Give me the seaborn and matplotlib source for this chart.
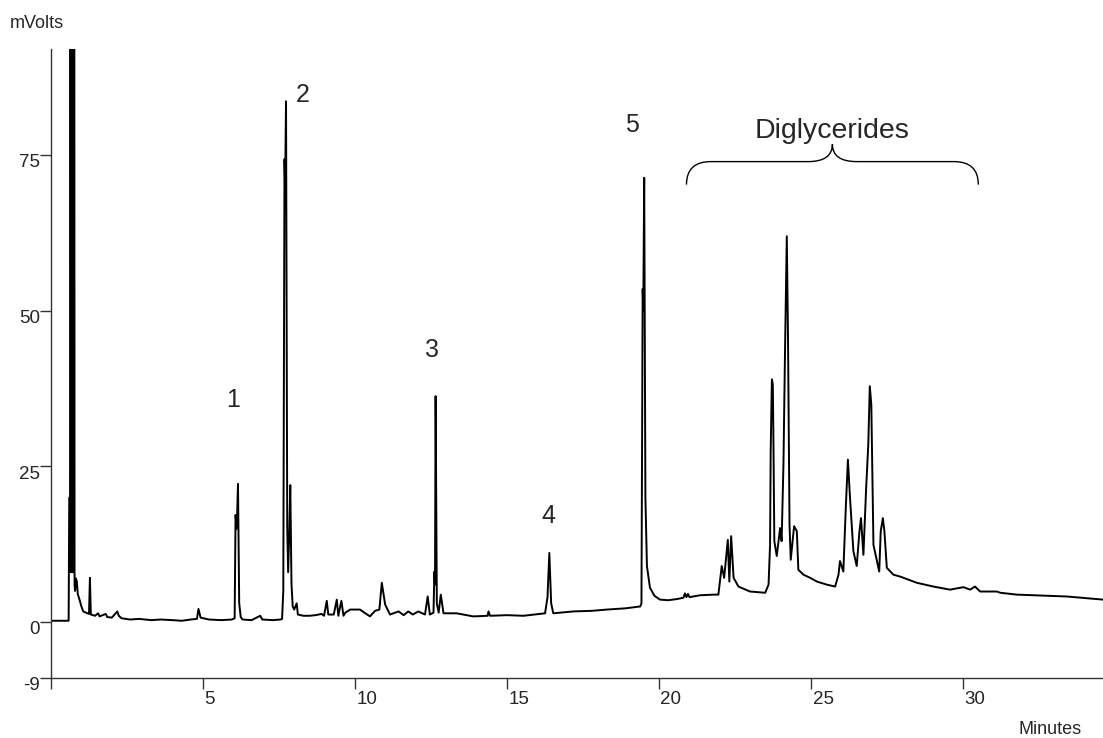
import matplotlib
matplotlib.use("Agg")
import matplotlib.pyplot as plt
import matplotlib.transforms as mtransforms
from matplotlib.path import Path
from matplotlib.patches import PathPatch
import pandas as pd
import seaborn as sns

# trace (minutes, mV)
time_min = [
    0.00, 0.58, 0.60, 0.63, 0.640, 0.655, 0.670, 0.685, 0.700, 0.715, 0.730, 0.745, 0.760, 0.775,
    0.79, 0.82, 0.85, 0.88, 0.95, 1.00, 1.06, 1.15, 1.25, 1.28, 1.31, 1.45, 1.55, 1.60, 1.80, 1.85,
    2.00, 2.18, 2.23, 2.32, 2.60, 2.90, 3.30, 3.60, 4.00, 4.30, 4.60, 4.80, 4.85, 4.92, 5.20, 5.60,
    5.95, 6.04, 6.07, 6.11, 6.15, 6.19, 6.24, 6.30, 6.60, 6.88, 6.95, 7.30, 7.55,
    7.60, 7.64, 7.68, 7.70, 7.73, 7.77, 7.80, 7.84, 7.87, 7.91, 7.95, 8.00, 8.08, 8.12, 8.30, 8.50,
    8.70, 8.90, 8.98, 9.07, 9.12, 9.30, 9.40, 9.45, 9.55, 9.62, 9.68, 9.84, 10.16, 10.49, 10.66,
    10.80, 10.88, 10.99, 11.15, 11.43, 11.60, 11.75, 11.90, 12.08, 12.30, 12.39, 12.46, 12.58,
    12.61, 12.63, 12.65, 12.69, 12.75, 12.82, 12.91, 13.34, 13.89, 14.36, 14.39, 14.44, 15.00,
    15.54, 16.25, 16.33, 16.39, 16.45, 16.52, 17.18, 17.80, 18.28, 18.90, 19.38, 19.42, 19.46,
    19.48, 19.51, 19.55, 19.60, 19.70, 19.85, 20.03, 20.30, 20.60, 20.80, 20.85, 20.90, 20.95,
    21.00, 21.35, 21.80, 21.95, 22.06, 22.14, 22.26, 22.31, 22.37, 22.45, 22.61, 22.99, 23.49,
    23.60, 23.65, 23.67, 23.71, 23.74, 23.76, 23.79, 23.87, 23.98, 24.03, 24.09, 24.14, 24.20,
    24.24, 24.29, 24.33, 24.44, 24.53, 24.58, 24.75, 24.97, 25.19, 25.52, 25.79, 25.90, 25.95,
    26.06, 26.14, 26.21, 26.28, 26.39, 26.50, 26.59, 26.64, 26.72, 26.81, 26.88, 26.93, 26.98,
    27.05, 27.24, 27.29, 27.36, 27.41, 27.49, 27.71, 27.93, 28.48, 29.02, 29.57, 30.01, 30.23,
    30.39, 30.56, 31.11, 31.22, 31.77, 32.31, 33.41, 34.60,
]
signal_mv = [
    0.2, 0.2, 20.0, 20.0, 200.0, 8.0, 200.0, 8.0, 200.0, 8.0, 200.0, 8.0, 200.0, 6.0,
    5.0, 7.0, 6.5, 4.5, 3.4, 2.5, 1.7, 1.5, 1.3, 7.1, 1.2, 1.0, 1.4, 0.9, 1.3, 0.8,
    0.7, 1.7, 1.0, 0.6, 0.4, 0.5, 0.3, 0.4, 0.3, 0.2, 0.4, 0.5, 2.1, 0.7, 0.4, 0.3,
    0.4, 0.6, 17.2, 15.0, 22.2, 3.0, 0.8, 0.4, 0.3, 1.0, 0.4, 0.3, 0.4,
    0.5, 5.0, 74.4, 70.0, 83.7, 15.0, 8.0, 15.0, 22.0, 6.0, 2.5, 2.0, 3.0, 1.2, 1.0, 1.0,
    1.1, 1.3, 1.0, 3.4, 1.2, 1.2, 3.6, 1.0, 3.4, 1.0, 1.5, 2.0, 2.0, 0.9, 1.8,
    2.0, 6.3, 2.8, 1.2, 1.7, 1.1, 1.7, 1.2, 1.7, 1.2, 4.1, 1.2, 1.5,
    8.1, 6.0, 36.3, 3.0, 1.5, 4.4, 1.4, 1.4, 0.9, 1.0, 1.7, 1.0, 1.1,
    1.0, 1.4, 4.0, 11.1, 3.0, 1.4, 1.7, 1.8, 2.0, 2.2, 2.5, 3.0, 53.5,
    50.0, 71.4, 20.0, 9.0, 5.5, 4.2, 3.6, 3.5, 3.7, 3.9, 4.6, 4.0, 4.5,
    4.0, 4.3, 4.4, 4.4, 9.0, 7.1, 13.2, 6.5, 13.8, 7.1, 5.7, 4.9, 4.7,
    6.0, 12.4, 27.4, 39.0, 38.2, 29.6, 13.0, 10.6, 15.1, 13.0, 25.3, 43.0, 62.0,
    45.7, 15.6, 10.0, 15.4, 14.6, 8.4, 7.6, 7.1, 6.5, 6.0, 5.7, 7.6, 9.8,
    8.1, 18.3, 26.1, 19.9, 11.4, 9.0, 14.6, 16.7, 10.8, 21.5, 28.5, 37.9, 34.9,
    12.4, 8.1, 14.6, 16.7, 14.6, 8.7, 7.6, 7.3, 6.3, 5.7, 5.2, 5.6, 5.2,
    5.7, 4.9, 4.9, 4.7, 4.4, 4.3, 4.1, 3.6,
]

peak_ids = ["1", "2", "3", "4", "5"]
label_time = [5.99, 8.29, 12.53, 16.35, 19.11]
label_mv = [35.7, 84.7, 43.7, 17.0, 79.9]

group_name = "Diglycerides"
group_start = 20.9
group_end = 30.5

y_ticks = [-9, 0, 25, 50, 75]
x_ticks = [0, 5, 10, 15, 20, 25, 30]
x_tick_labels = ["", "5", "10", "15", "20", "25", "30"]

df = pd.DataFrame({"time": time_min, "mv": signal_mv})

sns.set_style("ticks")
plt.rcParams["font.family"] = ["Liberation Sans", "DejaVu Sans"]
plt.rcParams["axes.unicode_minus"] = False

fig = plt.figure(figsize=(11.03, 7.38), dpi=100)
ax = fig.add_axes([51 / 1103, 60 / 738, 1052 / 1103, 629 / 738])

sns.lineplot(data=df, x="time", y="mv", color="black", linewidth=1.4,
             estimator=None, sort=False, ax=ax)

ax.set_xlim(0, 34.6)
ax.set_ylim(-9, 92.1)
ax.set_xlabel("")
ax.set_ylabel("")
sns.despine(ax=ax)
for side in ["left", "bottom"]:
    ax.spines[side].set_color("#333333")
    ax.spines[side].set_linewidth(1.0)

ax.set_xticks(x_ticks)
ax.set_xticklabels(x_tick_labels)
ax.set_yticks(y_ticks)
ax.tick_params(axis="both", direction="out", length=8, width=1.0, color="#333333",
               labelsize=13.5, pad=1)
ax.tick_params(axis="y", pad=0)

dx = mtransforms.ScaledTranslation(1 / 72, 0, fig.dpi_scale_trans)
for lab in ax.get_xticklabels():
    lab.set_horizontalalignment("left")
    lab.set_transform(lab.get_transform() + dx)
dy = mtransforms.ScaledTranslation(0, -4 / 72, fig.dpi_scale_trans)
for lab in ax.get_yticklabels():
    lab.set_transform(lab.get_transform() + dy)

for pid, t, v in zip(peak_ids, label_time, label_mv):
    ax.text(t, v, pid, fontsize=18, ha="center", va="center")

# curly brace over the diglyceride group
mid = (group_start + group_end) / 2
tip_y, line_y, cusp_y = 70.3, 74.0, 76.8
bend = 0.8
verts = [
    (group_start, tip_y), (group_start, line_y), (group_start + bend, line_y),
    (mid - bend, line_y), (mid, line_y), (mid, cusp_y),
    (mid, line_y), (mid + bend, line_y),
    (group_end - bend, line_y), (group_end, line_y), (group_end, tip_y),
]
codes = [Path.MOVETO, Path.CURVE3, Path.CURVE3,
         Path.LINETO, Path.CURVE3, Path.CURVE3,
         Path.CURVE3, Path.CURVE3,
         Path.LINETO, Path.CURVE3, Path.CURVE3]
ax.add_patch(PathPatch(Path(verts, codes), facecolor="none", edgecolor="black", lw=1.0))
ax.text(mid, 78.9, group_name, fontsize=20.5, ha="center", va="center")

fig.text(10 / 1103, 1 - 24 / 738, "mVolts", fontsize=13, ha="left", va="center")
fig.text(1050 / 1103, 1 - 729 / 738, "Minutes", fontsize=13, ha="center", va="center")

fig.savefig("out.png", dpi=100)
